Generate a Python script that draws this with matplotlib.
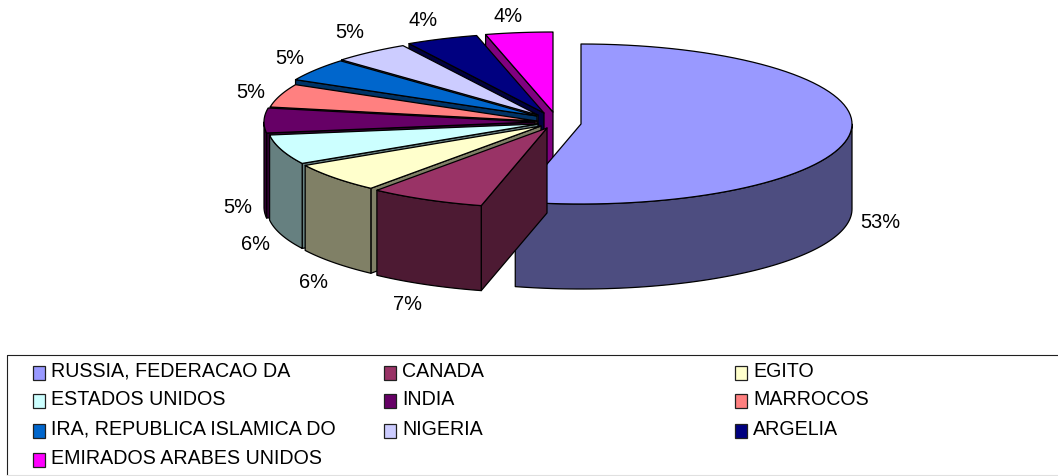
import numpy as np
import matplotlib
matplotlib.use("Agg")
import matplotlib.pyplot as plt
from matplotlib.colors import to_rgb
from matplotlib.patches import Polygon, Rectangle

# pais and share in %
paises = ["RUSSIA, FEDERACAO DA", "CANADA", "EGITO", "ESTADOS UNIDOS", "INDIA",
          "MARROCOS", "IRA, REPUBLICA ISLAMICA DO", "NIGERIA", "ARGELIA",
          "EMIRADOS ARABES UNIDOS"]
valores = [53.4, 7.4, 6.0, 6.0, 5.0, 4.7, 4.6, 4.6, 4.3, 4.0]
cores = ["#9999FF", "#993366", "#FFFFCC", "#CCFFFF", "#660066",
         "#FF8080", "#0066CC", "#CCCCFF", "#000080", "#FF00FF"]

# layout, in image pixels
RX, RY, DEPTH = 271, 80, 85
apex = [(581, 125), (547, 129), (541, 127), (538, 125), (535, 123),
        (537, 122), (537, 117), (538, 116), (544, 114), (553, 113)]
label_pos = [(880, 223), (408, 305), (313, 283), (256, 245), (238, 208),
             (251, 92), (290, 59), (350, 32), (423, 20), (508, 17)]
LW = 0.9
FRONT_SHIFT = 1.8  # the perspective of the 3D view pushes the big slice edge a bit round

plt.rcParams['font.family'] = ['Liberation Sans', 'DejaVu Sans']
fig = plt.figure(figsize=(10.58, 4.77), dpi=100)
ax = fig.add_axes([0, 0, 1, 1])
ax.set_xlim(0, 1058)
ax.set_ylim(477, 0)
ax.axis("off")


def arc(cx, cy, a0, a1):
    # angles in degrees, clockwise from the top of the pie
    t = np.radians(np.linspace(a0, a1, 80))
    return np.column_stack([cx + RX * np.sin(t), cy - RY * np.cos(t)])


def face(pts, color):
    ax.add_patch(Polygon(pts, closed=True, facecolor=color, edgecolor="black",
                         linewidth=LW, joinstyle="round"))


def radial_wall(cx, cy, a, color):
    p = arc(cx, cy, a, a)[0]
    face([(cx, cy), p, p + (0, DEPTH), (cx, cy + DEPTH)], color)


limites = np.cumsum([0] + valores) / sum(valores) * 360
limites[1] += FRONT_SHIFT

# back slices first, the last ones in the list sit at the back
for i in np.argsort([-np.cos(np.radians((limites[k] + limites[k + 1]) / 2)) for k in range(len(valores))]):
    a0, a1 = limites[i], limites[i + 1]
    cx, cy = apex[i]
    top = cores[i]
    side = tuple(c * 0.5 for c in to_rgb(top))

    # only walls turned to the viewer
    if np.sin(np.radians(a0)) < -1e-6:
        radial_wall(cx, cy, a0, side)
    if np.sin(np.radians(a1)) > 1e-6:
        radial_wall(cx, cy, a1, side)

    # outer wall, only the front half of the rim shows
    lo, hi = max(a0, 90), min(a1, 270)
    if hi > lo:
        rim = arc(cx, cy, lo, hi)
        face(np.vstack([rim, (rim + (0, DEPTH))[::-1]]), side)

    face(np.vstack([[(cx, cy)], arc(cx, cy, a0, a1)]), top)

for v, (x, y) in zip(valores, label_pos):
    ax.text(x, y, f"{v:.0f}%", fontsize=14.4, color="black", ha="center", va="center")

# legend, runs off the right side of the picture
ax.plot([7, 7, 1058], [476, 355.5, 355.5], color="#202020", linewidth=0.8)
ax.plot([7, 1058], [476, 476], color="#e0e0e0", linewidth=0.8)
col_x = [33, 384, 735]
row_y = [370, 398, 428, 457]
for i, (nome, cor) in enumerate(zip(paises, cores)):
    x = col_x[i % 3]
    y = row_y[i // 3]
    ax.add_patch(Rectangle((x, y - 3), 12, 14, facecolor=cor, edgecolor="#202020", linewidth=0.9, zorder=2))
    ax.text(x + 18, y + 7, nome, fontsize=14.1, color="black", ha="left", va="baseline", zorder=2)

fig.savefig("out.png", dpi=100)
